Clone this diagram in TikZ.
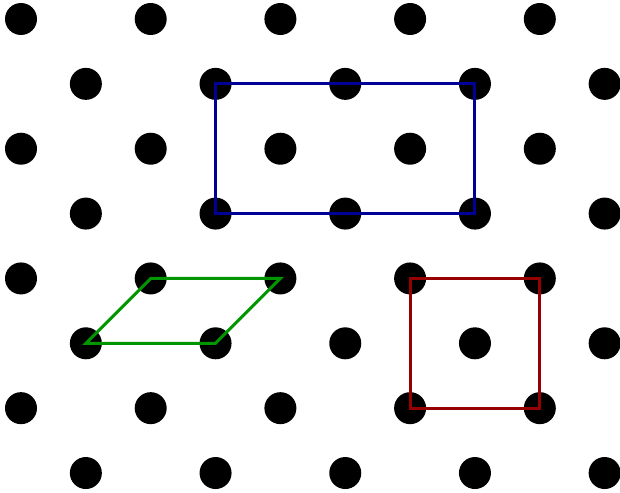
\documentclass[tikz,border=0pt]{standalone}
\definecolor{lblue}{RGB}{0,0,150}
\definecolor{lred}{RGB}{150,0,0}
\definecolor{lgreen}{RGB}{0,150,0}
\tikzset{
  latdot/.style={circle,fill=black,inner sep=0pt,minimum size=32pt},
  cell/.style={line width=3pt,line join=miter}
}
\begin{document}
\begin{tikzpicture}[x=1pt,y=-1pt]
\useasboundingbox (0,0) rectangle (620,492);
\foreach \r in {0,...,7}{
  \foreach \k in {0,...,4}{
    \pgfmathsetmacro{\xx}{21+129.7*\k+64.85*mod(\r,2)}
    \pgfmathsetmacro{\yy}{19+64.86*\r}
    \node[latdot] (d-\r-\k) at (\xx,\yy) {};
  }
}
% blue rectangle
\draw[cell,lblue] (d-1-1.center) -- (d-1-3.center) -- (d-3-3.center) -- (d-3-1.center) -- cycle;
% green parallelogram
\draw[cell,lgreen] (d-5-0.center) -- (d-5-1.center) -- (d-4-2.center) -- (d-4-1.center) -- cycle;
% red square
\draw[cell,lred] (d-4-3.center) -- (d-4-4.center) -- (d-6-4.center) -- (d-6-3.center) -- cycle;
\end{tikzpicture}
\end{document}
